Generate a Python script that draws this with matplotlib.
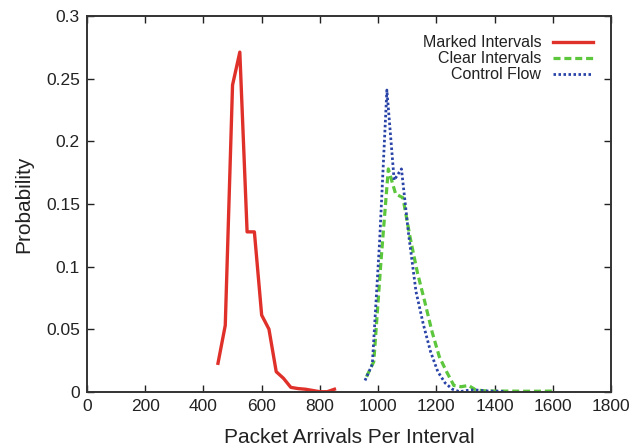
import matplotlib
matplotlib.use("Agg")
import matplotlib.pyplot as plt

plt.rcParams['font.family'] = ['Liberation Sans', 'DejaVu Sans']

# Marked intervals (red)
marked_x = [450, 475, 500, 525, 550, 575, 600, 625, 650, 675, 700, 725, 750, 775, 800, 825, 850]
marked_y = [0.0227, 0.053, 0.245, 0.2713, 0.1277, 0.1277, 0.0612, 0.050, 0.016, 0.0107,
            0.0035, 0.0025, 0.002, 0.001, 0.0, 0.0, 0.002]

# Clear intervals (green)
clear_x = [960, 985, 1010, 1035, 1060, 1085, 1110, 1135, 1160, 1185, 1210, 1235, 1260,
           1285, 1310, 1335, 1360, 1400, 1450, 1500, 1550, 1600]
clear_y = [0.012, 0.024, 0.105, 0.178, 0.158, 0.155, 0.123, 0.095, 0.072, 0.048, 0.028,
           0.016, 0.005, 0.004, 0.005, 0.0015, 0.0008, 0.0005, 0.0005, 0.0004, 0.0004, 0.0005]

# Control flow (blue)
control_x = [955, 980, 1005, 1030, 1055, 1080, 1105, 1130, 1155, 1180, 1205, 1230, 1255,
             1280, 1305, 1330, 1355, 1380, 1405, 1430]
control_y = [0.009, 0.022, 0.12, 0.241, 0.169, 0.178, 0.125, 0.08, 0.054, 0.032, 0.016,
             0.007, 0.002, 0.0, 0.001, 0.0015, 0.001, 0.0005, 0.0005, 0.0003]

fig = plt.figure(figsize=(6.3, 4.46), dpi=100)
ax = fig.add_axes([0.138, 0.1217, 0.832, 0.842])

ax.plot(marked_x, marked_y, color='#e0302a', lw=2.4, label='Marked Intervals')
ax.plot(clear_x, clear_y, color='#5cc63c', lw=2.3, dashes=(2.2, 1.2), label='Clear Intervals')
ax.plot(control_x, control_y, color='#2a44a8', lw=2.0, dashes=(0.9, 0.9), label='Control Flow')

ax.set_xlim(0, 1800)
ax.set_ylim(0, 0.3)
ax.set_xticks(range(0, 1801, 200))
ax.set_yticks([0, 0.05, 0.1, 0.15, 0.2, 0.25, 0.3])
ax.set_yticklabels(['0', '0.05', '0.1', '0.15', '0.2', '0.25', '0.3'])
ax.tick_params(direction='in', top=True, right=True, length=5, width=1,
               labelsize=12.5, colors='#222222', pad=5)
for s in ax.spines.values():
    s.set_linewidth(1.4)
    s.set_color('#333333')

ax.set_xlabel('Packet Arrivals Per Interval', fontsize=15, color='#222222', labelpad=10)
ax.set_ylabel('Probability', fontsize=15, color='#222222', labelpad=9)

leg = ax.legend(loc='upper right', bbox_to_anchor=(0.978, 0.966), borderaxespad=0,
                frameon=False, fontsize=11.5, markerfirst=False,
                handlelength=2.5, labelspacing=0.06, handletextpad=0.75)
for t in leg.get_texts():
    t.set_color('#222222')
    t.set_ha('right')
leg._legend_box.align = 'right'

fig.savefig('out.png', dpi=100)
